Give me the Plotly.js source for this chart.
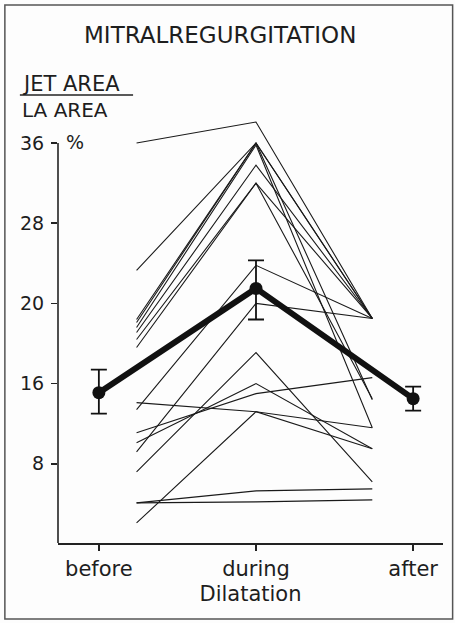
<!DOCTYPE html>
<html>
<head>
<meta charset="utf-8">
<script src="https://cdn.plot.ly/plotly-3.0.1.min.js"></script>
<style>
html,body{margin:0;padding:0;background:#fff;}
#chart{width:455px;height:623px;}
</style>
</head>
<body>
<div id="chart"></div>
<script>
// Phases of dilatation (x categories) and their axis positions
var categories = ['before', 'during', 'after'];
var categoryPos = [0, 1, 2];
// x positions of the individual patient lines (offset inward from the category ticks)
var patientX = [0.24, 1, 1.74];

// Y-axis tick labels as printed (evenly spaced on the original figure)
var yTickVals = [4, 12, 20, 28, 36];
var yTickText = ['8', '16', '20', '28', '36'];

// Individual patients: jet area / LA area (%) in the figure's scale
var patientBefore = [36.0, 23.3, 18.4, 18.1, 17.6, 17.1, 16.4, 15.6, 10.1, 9.4, 7.1, 6.1, 5.2, 3.2, 0.1, 0.1, -1.9];
var patientDuring = [38.1, 36.0, 36.0, 36.0, 35.8, 33.8, 32.0, 32.0, 9.2, 23.8, 11.0, 12.0, 20.0, 15.1, 1.3, 0.2, 9.2];
var patientAfter  = [18.5, 18.5, 10.4, 18.5, 7.6, 18.5, 18.5, 10.5, 7.6, 18.5, 12.6, 5.5, 18.5, 2.2, 1.5, 0.4, 5.5];

// Mean with error bars
var meanValues = [11.1, 21.5, 10.5];
var errPlus = [2.3, 2.8, 1.2];
var errMinus = [2.1, 3.1, 1.2];

var traces = [];
for (var i = 0; i < patientBefore.length; i++) {
  traces.push({
    type: 'scatter', mode: 'lines',
    x: patientX,
    y: [patientBefore[i], patientDuring[i], patientAfter[i]],
    line: {color: '#1a1a1a', width: 1.1},
    hoverinfo: 'skip', showlegend: false
  });
}
traces.push({
  type: 'scatter', mode: 'lines+markers',
  x: categoryPos, y: meanValues,
  line: {color: '#111', width: 6},
  marker: {color: '#111', size: 13},
  error_y: {type: 'data', symmetric: false, array: errPlus, arrayminus: errMinus,
            color: '#111', thickness: 1.8, width: 8},
  showlegend: false
});

var FONT = 'DejaVu Sans, sans-serif';
var TXT = '#1e1e1e';

var layout = {
  width: 455, height: 623,
  margin: {l: 58, r: 12, t: 113, b: 80},
  paper_bgcolor: '#fdfdfd', plot_bgcolor: '#fdfdfd',
  showlegend: false,
  font: {family: FONT, color: TXT},
  title: {text: 'MITRALREGURGITATION', font: {family: FONT, size: 23, color: TXT},
          x: 0.484, xanchor: 'center', xref: 'container', y: 0.944, yanchor: 'middle', yref: 'container'},
  xaxis: {
    range: [-0.26, 2.19], tickvals: categoryPos, ticktext: categories,
    showgrid: false, zeroline: false, showline: true, linecolor: '#222', linewidth: 1.6,
    ticks: 'outside', ticklen: 6, tickwidth: 1.6, tickcolor: '#222',
    tickfont: {family: FONT, size: 21, color: TXT},
    title: {text: 'Dilatation', font: {family: FONT, size: 21, color: TXT}, standoff: 6}
  },
  yaxis: {
    range: [-3.9, 39.0], tickvals: yTickVals, ticktext: yTickText,
    showgrid: false, zeroline: false, showline: false,
    ticks: 'outside', ticklen: 6, tickwidth: 1.6, tickcolor: '#222',
    ticklabelstandoff: 3,
    tickfont: {family: FONT, size: 19, color: TXT}
  },
  shapes: [
    // y axis line (stops at the top tick)
    {type: 'line', xref: 'paper', yref: 'y', x0: 0, x1: 0, y0: -3.9, y1: 36,
     line: {color: '#222', width: 1.6}},
    // fraction bar under JET AREA
    {type: 'line', xref: 'paper', yref: 'paper', x0: -0.099, x1: 0.195, y0: 1.042, y1: 1.042,
     line: {color: '#222', width: 1.6}},
    // outer frame
    {type: 'rect', xref: 'paper', yref: 'paper', x0: -0.138, x1: 1.025, y0: -0.177, y1: 1.251,
     line: {color: '#555', width: 1.5}}
  ],
  annotations: [
    {text: 'JET AREA', xref: 'paper', yref: 'paper', x: -0.099, y: 1.067, xanchor: 'left', yanchor: 'middle',
     showarrow: false, font: {family: FONT, size: 21, color: TXT}},
    {text: 'LA AREA', xref: 'paper', yref: 'paper', x: -0.099, y: 1.007, xanchor: 'left', yanchor: 'middle',
     showarrow: false, font: {family: FONT, size: 20, color: TXT}},
    {text: '%', xref: 'paper', yref: 'paper', x: 0.016, y: 0.933, xanchor: 'left', yanchor: 'middle',
     showarrow: false, font: {family: FONT, size: 19, color: TXT}}
  ]
};

Plotly.newPlot('chart', traces, layout, {displayModeBar: false, staticPlot: true});
</script>
</body>
</html>
